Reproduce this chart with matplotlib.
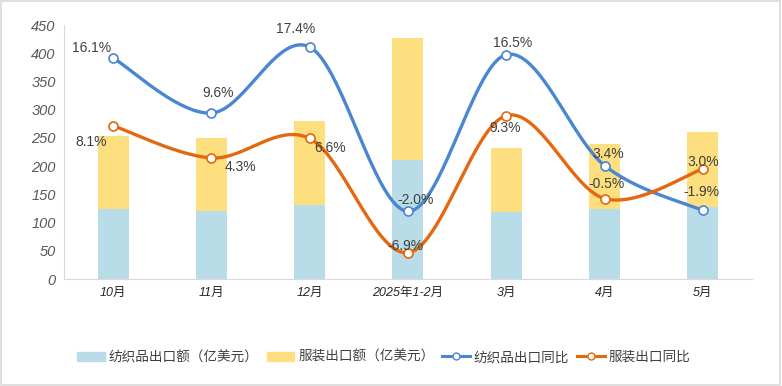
import numpy as np
import matplotlib
matplotlib.use("Agg")
from matplotlib import pyplot as plt
from matplotlib.lines import Line2D
from matplotlib.patches import Patch

plt.rcParams["font.family"] = ["Liberation Sans", "Noto Sans CJK SC", "DejaVu Sans"]

# Data
months = ["10月", "11月", "12月", "2025年1-2月", "3月", "4月", "5月"]
textile_value = [123.5, 121, 131, 211, 119, 123.5, 128]
apparel_value = [129.5, 129, 149, 216, 113, 116.5, 132]
textile_yoy = [16.1, 9.6, 17.4, -2.0, 16.5, 3.4, -1.9]
apparel_yoy = [8.1, 4.3, 6.6, -6.9, 9.3, -0.5, 3.0]

# label offsets in pixels (dx, dy) for each yoy label
textile_offsets = [(-22, 10), (7, 20), (-14, 18), (8, 11), (6, 12), (4, 12), (-1, 18)]
apparel_offsets = [(-22, -16), (29, -9), (20, -10), (-3, 7), (-1, -12), (2, 15), (0, 7)]

BLUE_BAR = "#B9DDE8"
YELLOW_BAR = "#FDDF80"
BLUE_LINE = "#4A86D2"
ORANGE_LINE = "#E4680F"


def smooth(xs, ys, n=40):
    # Catmull-Rom style bezier, similar to Excel smoothed lines
    xs = np.asarray(xs, float)
    ys = np.asarray(ys, float)
    pts = np.column_stack([xs, ys])
    out = []
    for i in range(len(pts) - 1):
        p0 = pts[i - 1] if i > 0 else pts[i]
        p1 = pts[i]
        p2 = pts[i + 1]
        p3 = pts[i + 2] if i + 2 < len(pts) else pts[i + 1]
        c1 = p1 + (p2 - p0) / 6
        c2 = p2 - (p3 - p1) / 6
        t = np.linspace(0, 1, n)[:, None]
        seg = (1 - t) ** 3 * p1 + 3 * (1 - t) ** 2 * t * c1 + 3 * (1 - t) * t ** 2 * c2 + t ** 3 * p2
        out.append(seg if i == 0 else seg[1:])
    out = np.vstack(out)
    return out[:, 0], out[:, 1]


fig = plt.figure(figsize=(7.82, 3.86), dpi=100)
ax = fig.add_axes([0.0818, 0.2772, 0.8798, 0.658])
ax2 = ax.twinx()

x = np.arange(len(months))
width = 0.315
ax.bar(x, textile_value, width, color=BLUE_BAR, zorder=2)
ax.bar(x, apparel_value, width, bottom=textile_value, color=YELLOW_BAR, zorder=2)

ax.set_xlim(-0.5, len(months) - 0.5)
ax.set_ylim(0, 450)
ax.set_yticks(np.arange(0, 451, 50))
ax.tick_params(axis="y", length=0, labelsize=10.5, labelcolor="#595959", pad=6)
ax.tick_params(axis="x", length=0, labelsize=9, labelcolor="#262626", pad=6)
ax.set_xticks(x, months)
for lab in ax.get_yticklabels() + ax.get_xticklabels():
    lab.set_fontstyle("italic")
for s in ["top", "right"]:
    ax.spines[s].set_visible(False)
for s in ["left", "bottom"]:
    ax.spines[s].set_color("#D9D9D9")

ax2.set_ylim(-10, 20)
ax2.axis("off")

for yoy, col, offs in [(textile_yoy, BLUE_LINE, textile_offsets),
                       (apparel_yoy, ORANGE_LINE, apparel_offsets)]:
    sx, sy = smooth(x, yoy)
    ax2.plot(sx, sy, color=col, lw=2.4, zorder=3, solid_capstyle="round")
    ax2.plot(x, yoy, ls="none", marker="o", ms=6.5, mfc="white", mec=col, mew=1.2, zorder=4)
    for xi, v, (dx, dy) in zip(x, yoy, offs):
        ax2.annotate(f"{v:.1f}%", (xi, v), xytext=(dx, dy), textcoords="offset pixels",
                     ha="center", va="center", fontsize=10, color="#404040", zorder=5)

handles = [
    Patch(color=BLUE_BAR, label="纺织品出口额（亿美元）"),
    Patch(color=YELLOW_BAR, label="服装出口额（亿美元）"),
    Line2D([], [], color=BLUE_LINE, lw=2.2, marker="o", ms=5, mfc="white", mec=BLUE_LINE,
           label="纺织品出口同比"),
    Line2D([], [], color=ORANGE_LINE, lw=2.2, marker="o", ms=5, mfc="white", mec=ORANGE_LINE,
           label="服装出口同比"),
]
fig.legend(handles=handles, loc="center left", bbox_to_anchor=(0.099, 0.075), ncol=4,
           frameon=False, handlelength=2.0, handleheight=0.6, handletextpad=0.3,
           columnspacing=0.6, borderpad=0, borderaxespad=0,
           prop={"family": ["Noto Sans CJK SC", "DejaVu Sans"], "size": 9.8})
for t in fig.legends[0].get_texts():
    t.set_color("#404040")

# thin frame around the whole picture
fig.patches.append(plt.Rectangle((0.001, 0.002), 0.997, 0.995, transform=fig.transFigure,
                                 fill=False, ec="#D9D9D9", lw=1.2))

fig.savefig("out.png", dpi=100)
